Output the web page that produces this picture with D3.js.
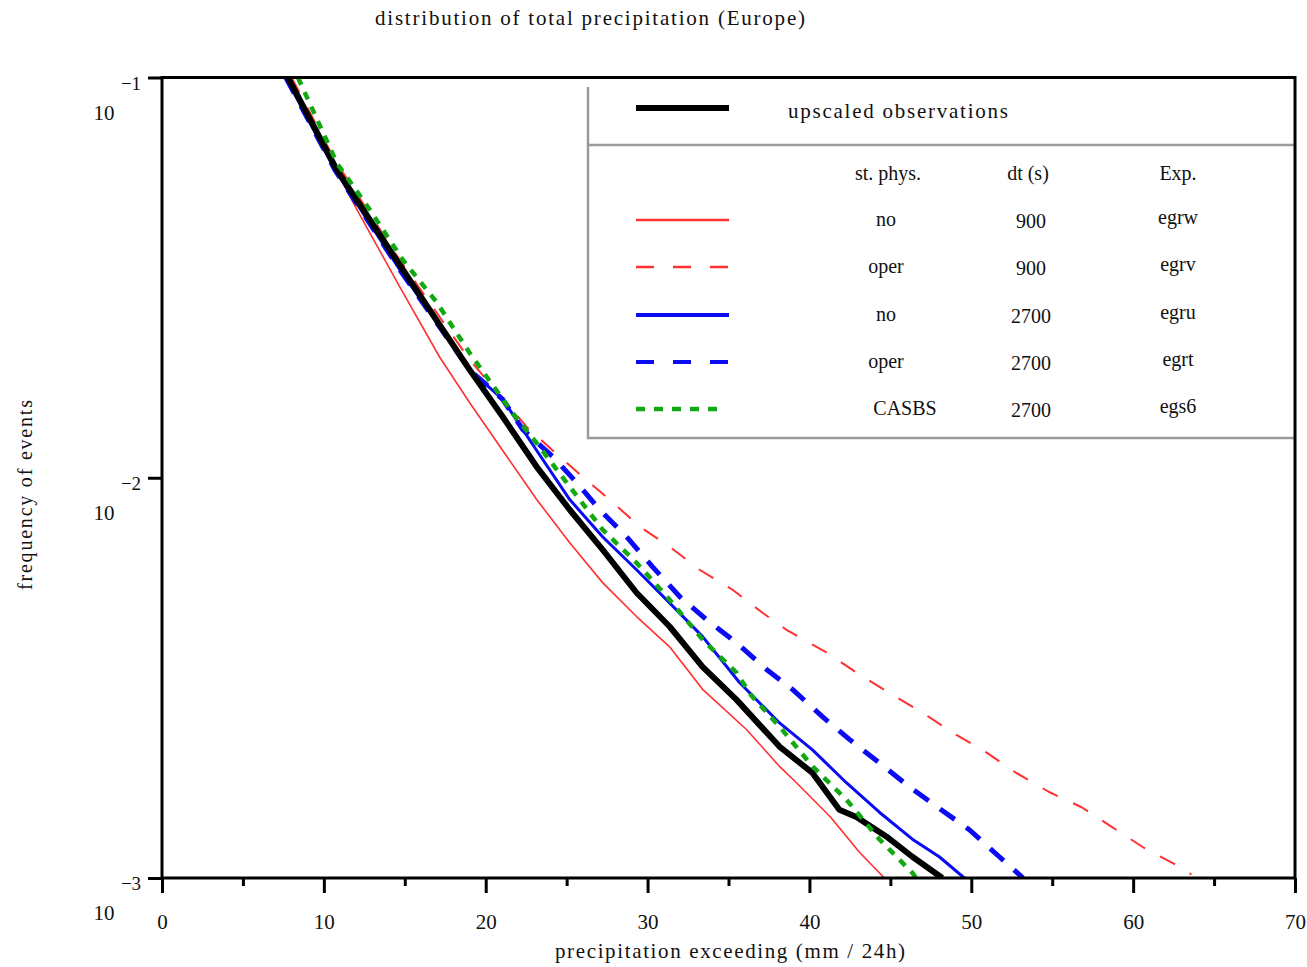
<!DOCTYPE html>
<html>
<head>
<meta charset="utf-8">
<script src="https://cdn.jsdelivr.net/npm/d3@7"></script>
<style>
  body { margin: 0; background: #fff; }
  svg text { font-family: "Liberation Serif", "DejaVu Serif", serif; fill: #111; }
</style>
</head>
<body>
<div id="chart"></div>
<script>
// precipitation thresholds (mm / 24h) and frequency of exceedance
var obsUpscaled = [[7.78,0.1],[10.8,0.0588],[14.88,0.0331],[19.01,0.0186],[21.05,0.0142],[23.15,0.01065],
    [25.19,0.00832],[27.22,0.00661],[29.32,0.00516],[31.36,0.00425],[33.4,0.00337],[35.49,0.00279],
    [38.15,0.00213],[40.19,0.00183],[41.85,0.00148],[42.9,0.00142],[44.75,0.00127],[46.36,0.00113],[48.21,0.001]];

var egrw = [[7.65,0.1],[9.75,0.0698],[12.22,0.0454],[14.69,0.03],[17.16,0.02],[19.01,0.0154],[21.05,0.0117],
    [23.15,0.00882],[25.19,0.00688],[27.22,0.00547],[29.32,0.0045],[31.36,0.00378],[33.4,0.00296],
    [36.11,0.00235],[38.15,0.0019],[39.2,0.00173],[41.3,0.00142],[43.09,0.00116],[44.63,0.001]];

var egrv = [[8.0,0.1],[10.68,0.0622],[14.69,0.035],[19.01,0.0197],[22.53,0.0134],[24.14,0.0117],[25.99,0.01006],
    [27.65,0.00882],[29.51,0.00755],[31.36,0.00673],[33.21,0.00589],[35.25,0.00525],[37.1,0.0046],
    [38.58,0.00417],[41.05,0.00366],[42.9,0.00326],[44.94,0.0029],[46.98,0.00259],[48.83,0.00231],
    [50.93,0.00206],[52.78,0.00183],[54.81,0.00164],[56.85,0.0015],[58.7,0.00134],[60.8,0.00118],
    [63.02,0.00106],[63.6,0.00102]];

var egru = [[7.65,0.1],[10.68,0.0588],[14.69,0.0331],[19.01,0.0186],[21.05,0.0157],[23.15,0.0117],
    [25.19,0.00882],[27.22,0.00712],[29.32,0.00589],[31.36,0.00487],[33.4,0.00401],[35.68,0.00308],
    [38.15,0.00244],[40.19,0.00209],[42.28,0.00173],[44.32,0.00146],[46.36,0.00125],[48.02,0.00113],[49.57,0.001]];

var egrt = [[7.65,0.1],[10.68,0.0588],[14.69,0.0331],[19.01,0.0186],[21.05,0.0157],[22.28,0.0132],
    [24.14,0.0113],[25.62,0.00972],[27.04,0.00832],[28.7,0.00712],[30.31,0.00599],[31.98,0.00505],
    [33.64,0.00442],[35.49,0.00387],[37.35,0.00332],[38.95,0.00296],[40.8,0.00253],[42.47,0.00222],
    [44.32,0.00194],[46.17,0.00169],[47.84,0.00151],[49.88,0.00132],[51.73,0.00113],[53.2,0.001]];

var egs6 = [[8.4,0.1],[10.8,0.0612],[12.84,0.0467],[14.88,0.035],[16.98,0.0274],[19.01,0.0205],[21.67,0.0145],
    [23.15,0.0122],[25.19,0.0095],[27.22,0.00742],[29.32,0.00613],[31.36,0.00496],[33.4,0.00394],
    [35.49,0.00326],[36.4,0.00286],[38.15,0.00239],[40.19,0.0019],[42.28,0.00157],[44.32,0.00125],
    [46.36,0.00103],[46.6,0.001]];

// axis ticks
var xMajorTicks = [0, 10, 20, 30, 40, 50, 60, 70];
var xMinorTicks = [5, 15, 25, 35, 45, 55, 65];
var yExponents = [-1, -2, -3];

// legend table
var legendPhys = ["no", "oper", "no", "oper", "CASBS"];
var legendDt = ["900", "900", "2700", "2700", "2700"];
var legendExp = ["egrw", "egrv", "egru", "egrt", "egs6"];

var width = 1307, height = 967;
var plotLeft = 162, plotRight = 1295, plotTop = 77.5, plotBottom = 878;

var svg = d3.select("#chart").append("svg")
    .attr("width", width)
    .attr("height", height);

var x = d3.scaleLinear().domain([0, 70]).range([plotLeft, plotRight]);
var y = d3.scaleLog().domain([1e-3, 1e-1]).range([plotBottom, plotTop]);

var red = "#ff3030", blue = "#0a0af5", green = "#12a812";

var series = [
    { data: egrw, color: red, width: 1.6, dash: null, legendDash: null },
    { data: egrv, color: red, width: 2, dash: "17,17", legendDash: "18,19" },
    { data: egru, color: blue, width: 3, dash: null, legendDash: null },
    { data: egrt, color: blue, width: 5, dash: "18,14", legendDash: "18,19" },
    { data: obsUpscaled, color: "#000", width: 6, dash: null, legendDash: null },
    { data: egs6, color: green, width: 4.5, dash: "8,8", legendDash: "9,9" }
];

svg.append("clipPath").attr("id", "plotclip")
    .append("rect")
    .attr("x", plotLeft).attr("y", plotTop)
    .attr("width", plotRight - plotLeft).attr("height", plotBottom - plotTop);

var line = d3.line()
    .x(function (d) { return x(d[0]); })
    .y(function (d) { return y(d[1]); });

var plot = svg.append("g").attr("clip-path", "url(#plotclip)");

plot.selectAll("path.curve")
    .data(series)
    .enter().append("path")
    .attr("class", "curve")
    .attr("d", function (d) { return line(d.data); })
    .attr("fill", "none")
    .attr("stroke", function (d) { return d.color; })
    .attr("stroke-width", function (d) { return d.width; })
    .attr("stroke-dasharray", function (d) { return d.dash; })
    .attr("stroke-linejoin", "round");

// legend box
var lg = svg.append("g");
lg.append("path")
    .attr("d", "M588,87 L588,438 L1295,438 M588,145 L1295,145")
    .attr("fill", "none")
    .attr("stroke", "#9a9a9a")
    .attr("stroke-width", 2.5);

lg.append("line")
    .attr("x1", 636).attr("x2", 729).attr("y1", 108).attr("y2", 108)
    .attr("stroke", "#000").attr("stroke-width", 6);
lg.append("text")
    .attr("x", 788).attr("y", 118)
    .attr("font-size", 21)
    .attr("textLength", 220)
    .text("upscaled observations");

lg.append("text").attr("x", 888).attr("y", 180).attr("font-size", 20).attr("text-anchor", "middle").text("st. phys.");
lg.append("text").attr("x", 1028).attr("y", 180).attr("font-size", 20).attr("text-anchor", "middle").text("dt (s)");
lg.append("text").attr("x", 1178).attr("y", 180).attr("font-size", 20).attr("text-anchor", "middle").text("Exp.");

var rowY = [220, 267, 315, 362, 409];
var legendSeries = [series[0], series[1], series[2], series[3], series[5]];

legendSeries.forEach(function (s, i) {
    lg.append("line")
        .attr("x1", 636).attr("x2", i === 4 ? 717 : 729)
        .attr("y1", rowY[i]).attr("y2", rowY[i])
        .attr("stroke", s.color)
        .attr("stroke-width", i === 4 ? 4.5 : (i >= 2 ? 4 : 2.5))
        .attr("stroke-dasharray", s.legendDash);
    lg.append("text").attr("x", i === 4 ? 905 : 886).attr("y", rowY[i] + 6)
        .attr("font-size", 20).attr("text-anchor", "middle").text(legendPhys[i]);
    lg.append("text").attr("x", 1031).attr("y", rowY[i] + 8)
        .attr("font-size", 20).attr("text-anchor", "middle").text(legendDt[i]);
    lg.append("text").attr("x", 1178).attr("y", rowY[i] + 4)
        .attr("font-size", 20).attr("text-anchor", "middle").text(legendExp[i]);
});

// axes
var axisW = 3;
var xAxis = svg.append("g")
    .attr("transform", "translate(0," + plotBottom + ")")
    .call(d3.axisBottom(x).tickValues(xMajorTicks).tickSize(15).tickFormat(d3.format("d")));
var xMinor = svg.append("g")
    .attr("transform", "translate(0," + plotBottom + ")")
    .call(d3.axisBottom(x).tickValues(xMinorTicks).tickSize(8).tickFormat(""));
var yAxis = svg.append("g")
    .attr("transform", "translate(" + plotLeft + ",0)")
    .call(d3.axisLeft(y).tickValues(yExponents.map(function (e) { return Math.pow(10, e); })).tickSize(14).tickFormat(""));

[xAxis, xMinor, yAxis].forEach(function (g) {
    g.select(".domain").remove();
    g.selectAll(".tick line").attr("stroke", "#000").attr("stroke-width", axisW);
});
xAxis.selectAll(".tick text")
    .attr("font-size", 21)
    .attr("y", 36)
    .attr("dy", "0.71em")
    .attr("font-family", "Liberation Serif, serif")
    .attr("fill", "#111");

// y labels: 10 with the exponent above and right
yExponents.forEach(function (e) {
    var yy = y(Math.pow(10, e));
    svg.append("text").attr("x", 104).attr("y", yy + 42)
        .attr("font-size", 21).attr("text-anchor", "middle").text("10");
    svg.append("text").attr("x", 131).attr("y", yy + 12)
        .attr("font-size", 19).attr("text-anchor", "middle").text("\u2212" + (-e));
});

// frame
svg.append("rect")
    .attr("x", plotLeft).attr("y", plotTop)
    .attr("width", plotRight - plotLeft).attr("height", plotBottom - plotTop)
    .attr("fill", "none")
    .attr("stroke", "#000")
    .attr("stroke-width", axisW);

// titles
svg.append("text")
    .attr("x", 590).attr("y", 25)
    .attr("font-size", 21).attr("text-anchor", "middle")
    .attr("textLength", 430)
    .text("distribution of total precipitation (Europe)");

svg.append("text")
    .attr("x", 730).attr("y", 958)
    .attr("font-size", 21).attr("text-anchor", "middle")
    .attr("textLength", 350)
    .text("precipitation exceeding (mm / 24h)");

svg.append("text")
    .attr("transform", "translate(32,495) rotate(-90)")
    .attr("font-size", 20).attr("text-anchor", "middle")
    .attr("textLength", 190)
    .text("frequency of events");
</script>
</body>
</html>
